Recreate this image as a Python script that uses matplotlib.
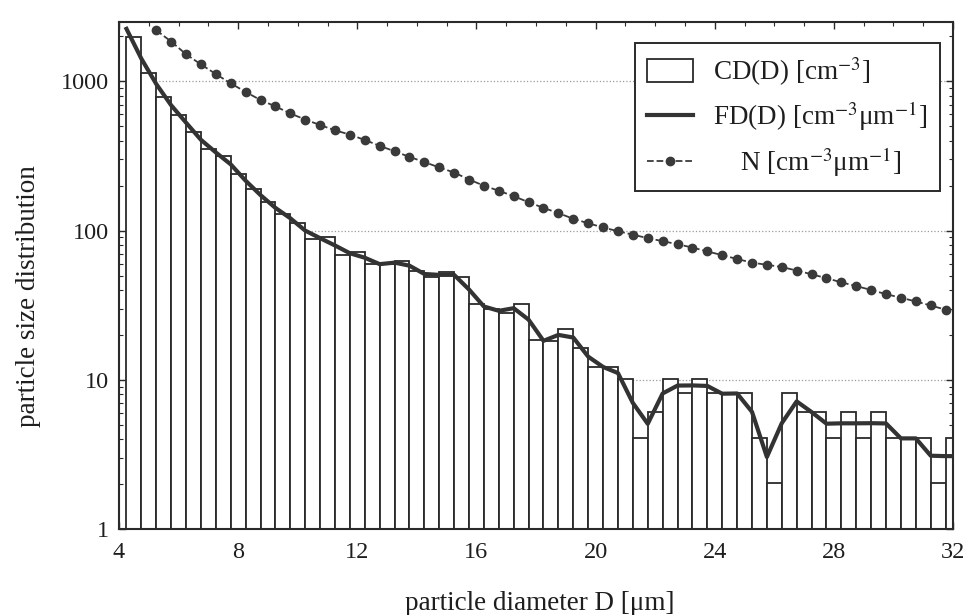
import matplotlib
matplotlib.use("Agg")
import matplotlib.pyplot as plt
import numpy as np
from matplotlib.patches import Patch
from matplotlib.lines import Line2D
from matplotlib.ticker import MultipleLocator, LogLocator, NullFormatter

plt.rcParams['font.family'] = ['Liberation Serif', 'DejaVu Serif']
plt.rcParams['mathtext.fontset'] = 'stix'

# ---------------- data ----------------
# CD(D): histogram bars, 0.5 um wide, centred at 4.5, 5.0, ... 32.0
cd_centers = np.arange(4.5, 32.01, 0.5)
cd_values = [1985, 1136, 786, 598, 460, 352, 316, 240, 191, 155,
             130, 112, 88.5, 90, 69, 72, 60, 59.5, 62.5, 53.5,
             48.5, 52.5, 48.5, 32, 30, 28, 32, 18.4, 18.1, 22,
             16.4, 12.2, 12.2, 10.1, 4.05, 6.1, 10.1, 8.2, 10.1, 8.1,
             8.1, 8.1, 4.05, 2.03, 8.2, 6.1, 6.1, 4.05, 6.1, 4.05,
             6.1, 4.05, 4.0, 4.1, 2.03, 4.1]

# FD(D): line through the bin edges
fd_x = np.append(np.arange(4.25, 31.8, 0.5), 32.0)
fd_values = [2250, 1420, 960, 692, 529, 406, 334, 278, 216, 173,
             142, 121, 100, 89, 79.5, 70.5, 65.8, 59.6, 61, 58.2,
             51.2, 50.5, 50.5, 40.3, 31, 29, 30.2, 25.3, 18.25, 20,
             19.2, 14.3, 12.2, 11.1, 7.0, 5.07, 8.1, 9.15, 9.17, 9.1,
             8.07, 8.1, 6.1, 3.04, 5.12, 7.17, 6.08, 5.08, 5.11, 5.11,
             5.12, 5.1, 4.05, 4.05, 3.1, 3.08, 3.08]

# N: dotted model curve
n_x = np.arange(5.25, 31.8, 0.5)
n_values = [2200, 1850, 1520, 1300, 1120, 970, 850, 750, 680, 610,
            555, 510, 470, 440, 405, 370, 340, 312, 288, 265,
            245, 220, 200, 185, 170, 155, 142, 131, 120, 112,
            105, 99, 94, 89, 85, 81, 77, 72.5, 68.5, 64.5,
            61, 59, 57, 54, 51, 48, 45, 42.5, 40, 37.5,
            35.5, 33.5, 31.5, 29.5]

x_ticks = [4, 8, 12, 16, 20, 24, 28, 32]
y_ticks = [1, 10, 100, 1000]
y_ticklabels = ['1', '10', '100', '1000']
legend_labels = ['CD(D) [cm$^{-3}$]',
                 'FD(D) [cm$^{-3}$μm$^{-1}$]',
                 '    N [cm$^{-3}$μm$^{-1}$]']

# ---------------- figure ----------------
ink = '#2a2a2a'
fig = plt.figure(figsize=(9.74, 6.15), dpi=100)
ax = fig.add_axes([0.1222, 0.1398, 0.8563, 0.8244])

ax.bar(cd_centers, cd_values, width=0.5, log=True, facecolor='white',
       edgecolor=ink, linewidth=1.3, zorder=2)
ax.plot(fd_x, fd_values, color='#333333', linewidth=3.0, zorder=3,
        solid_joinstyle='round')
ax.plot(n_x, n_values, linestyle='--', marker='o', markersize=6,
        color='#3a3a3a', linewidth=1.3, zorder=4)

ax.set_yscale('log')
ax.set_xlim(4, 32)
ax.set_ylim(1, 2500)
ax.set_axisbelow(True)
ax.yaxis.grid(True, which='major', linestyle=':', color='#9a9a9a', linewidth=0.9)

ax.set_xticks(x_ticks)
ax.xaxis.set_minor_locator(MultipleLocator(1))
ax.set_yticks(y_ticks)
ax.set_yticklabels(y_ticklabels)
ax.yaxis.set_minor_locator(LogLocator(base=10, subs=np.arange(2, 10)))
ax.yaxis.set_minor_formatter(NullFormatter())

ax.tick_params(which='both', direction='in', top=True, right=True,
               colors=ink, labelcolor='#1e1e1e', labelsize=17.5)
ax.tick_params(which='major', length=5, width=1.0)
ax.tick_params(which='minor', length=3, width=0.8)
ax.tick_params(axis='x', which='major', pad=9)
ax.tick_params(axis='y', which='major', pad=7)

for s in ax.spines.values():
    s.set_linewidth(1.5)
    s.set_color(ink)

ax.set_xlabel('particle diameter D [μm]', fontsize=19.5, color='#1e1e1e', va='center')
ax.xaxis.set_label_coords(0.505, -0.146)
ax.set_ylabel('particle size distribution', fontsize=19.5, color='#1e1e1e', va='center')
ax.yaxis.set_label_coords(-0.108, 0.46)

handles = [Patch(facecolor='white', edgecolor=ink, linewidth=1.3),
           Line2D([], [], color='#333333', linewidth=3.0),
           Line2D([], [], color='#3a3a3a', linestyle='--', marker='o',
                  markersize=6, linewidth=1.3)]
leg = ax.legend(handles, legend_labels, loc='upper right',
                bbox_to_anchor=(0.984, 0.959), borderaxespad=0,
                fontsize=19.5, fancybox=False, framealpha=1,
                edgecolor=ink, handlelength=1.7, handleheight=0.95,
                handletextpad=0.75, labelspacing=0.45, borderpad=0.45)
leg.get_frame().set_linewidth(1.4)
for t in leg.get_texts():
    t.set_color('#1e1e1e')

fig.savefig('out.png', dpi=100, facecolor='white')
